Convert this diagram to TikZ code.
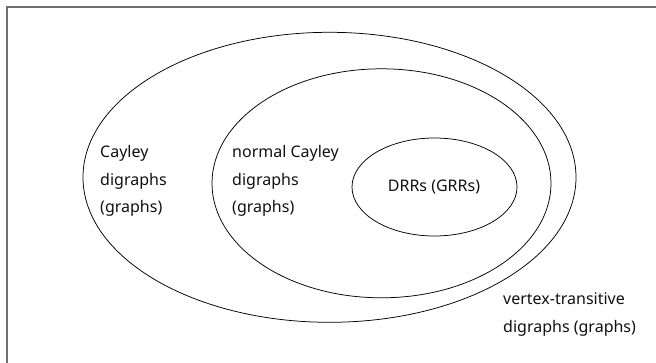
\documentclass[tikz,border=0pt]{standalone}
\usepackage{fontspec}
\setmainfont{Noto Sans}
\usetikzlibrary{shapes.geometric}
\definecolor{txt}{HTML}{111111}
\definecolor{frame}{HTML}{707070}
\tikzset{
  setellipse/.style={draw=black, line width=0.75pt, ellipse, inner sep=0pt},
  lbl/.style={text=txt, font=\fontsize{16}{27.5}\selectfont, align=left, inner sep=0pt, anchor=west}
}
\begin{document}
\begin{tikzpicture}[x=1pt,y=-1pt]
\useasboundingbox (0,0) rectangle (656,362);
\clip (0,0) rectangle (656,362);
\draw[frame, line width=2pt] (6.5,370) -- (6.5,6.5) -- (670,6.5);
\node[setellipse, minimum width=493pt, minimum height=290pt] (outer) at (329.5,177.3) {};
\node[setellipse, minimum width=339pt, minimum height=229pt] (middle) at (381.5,183.3) {};
\node[setellipse, minimum width=165pt, minimum height=98pt] (inner) at (434.5,187) {};
\node[lbl] (cayley) at (100,181) {Cayley\\digraphs\\(graphs)};
\node[lbl] (normal) at (232,181) {normal Cayley\\digraphs\\(graphs)};
\node[lbl, anchor=center] (drr) at (434,187) {DRRs (GRRs)};
\node[lbl] (vt) at (503,314.5) {vertex-transitive\\digraphs (graphs)};
\end{tikzpicture}
\end{document}
